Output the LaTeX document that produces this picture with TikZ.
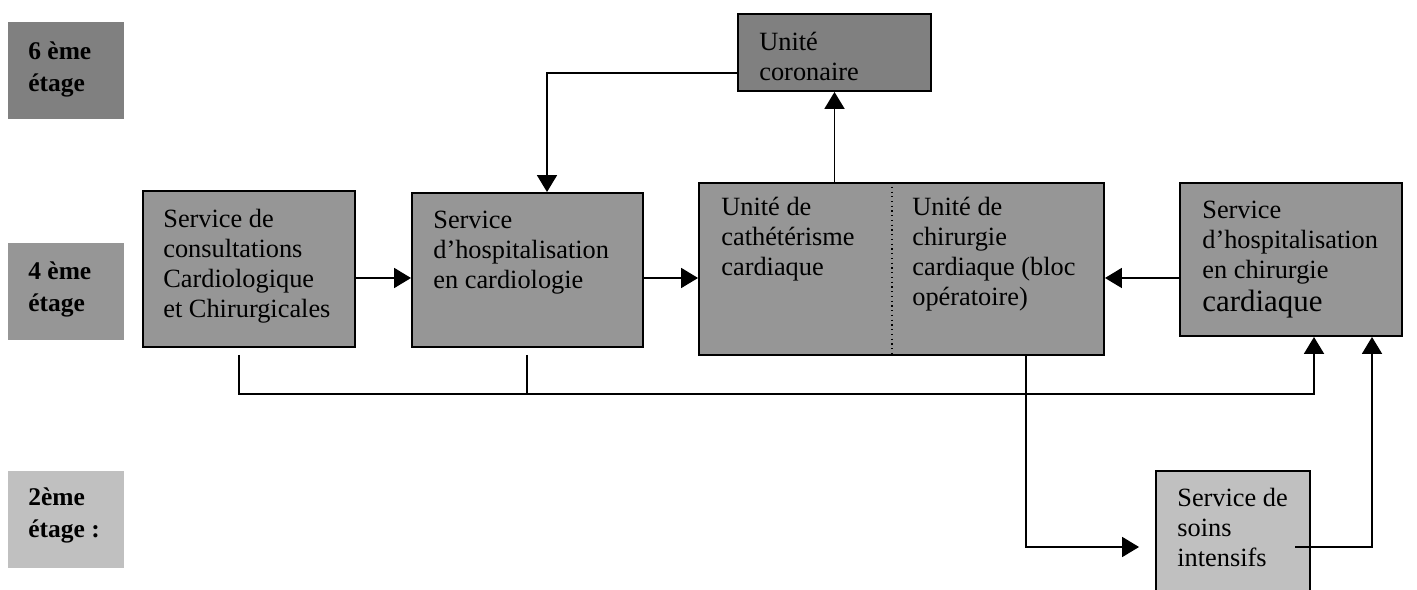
\documentclass[tikz,border=0pt]{standalone}
\usepackage{fontspec}
\setmainfont{Liberation Serif}
\usetikzlibrary{arrows.meta,positioning,calc,fit}
\definecolor{floorsix}{RGB}{128,128,128}
\definecolor{floorfour}{RGB}{150,150,150}
\definecolor{floortwo}{RGB}{192,192,192}
\tikzset{
  unit/.style={draw, line width=1.1pt, inner sep=0pt},
  txt/.style={anchor=north west, inner sep=0pt, align=left, font=\fontsize{15}{17}\selectfont},
  floorlbl/.style={anchor=north west, inner sep=0pt, align=left, font=\fontsize{14.5}{18.5}\selectfont\bfseries},
  link/.style={line width=1.1pt},
  arr/.style={link, -{Triangle[length=0.34cm,width=0.4cm]}}
}

\begin{document}
\begin{tikzpicture}[x=0.02cm, y=-0.02cm]
    \useasboundingbox (0,0) rectangle (1417,590);
    \clip (0,0) rectangle (1417,590);
    % Floors
    \foreach \name/\col/\ytop in {six/floorsix/22, four/floorfour/243, two/floortwo/471} {
        \node[fill=\col, inner sep=0pt, fit={(8,\ytop) (124,\ytop+97)}] (floor-\name) {};
    }
    \node[floorlbl] (lbl-six) at (28,41) {6 ème\\étage};
    \node[floorlbl] (lbl-four) at (28,261) {4 ème\\étage};
    \node[floorlbl] (lbl-two) at (28,487) {2ème\\étage :};
    % Units
    \node[unit, fill=floorfour, fit={(143,191) (355,347)}] (consult) {};
    \node[unit, fill=floorfour, fit={(412,193) (643,347)}] (hospcardio) {};
    \node[unit, fill=floorfour, fit={(699,183) (1104,355)}] (plateau) {};
    \node[unit, fill=floorfour, fit={(1180,183) (1402,336)}] (hospchir) {};
    \node[unit, fill=floorsix, fit={(738,14) (931,91)}] (coronaire) {};
    \node[unit, fill=floortwo, fit={(1156,471) (1310,600)}] (soins) {};
    \coordinate (div) at (892,0);
    \draw[dotted, line width=0.7pt] (plateau.north -| div) -- (plateau.south -| div);
    % Texts
    \node[txt] (consult-t) at (163,209) {Service de\\consultations\\Cardiologique\\et Chirurgicales};
    \node[txt] (hospcardio-t) at (433,211) {Service\\d’hospitalisation\\en cardiologie};
    \node[txt] (cathe-t) at (721,197) {Unité de\\cathétérisme\\cardiaque};
    \node[txt] (chir-t) at (912,197) {Unité de\\chirurgie\\cardiaque (bloc\\opératoire)};
    \node[txt] (hospchir-t) at (1202,201) {Service\\d’hospitalisation\\en chirurgie\\[2pt]{\fontsize{17.6}{20}\selectfont cardiaque}};
    \node[txt] (coronaire-t) at (759,32) {Unité\\coronaire};
    \node[txt] (soins-t) at (1177,488) {Service de\\soins\\intensifs};
    % Arrows on the 4th floor
    \coordinate (row) at (0,278);
    \draw[arr] (consult.east |- row) -- (hospcardio.west |- row);
    \draw[arr] (hospcardio.east |- row) -- (plateau.west |- row);
    \draw[arr] (hospchir.west |- row) -- (plateau.east |- row);
    % To and from the coronary unit
    \draw[arr] (coronaire.south |- plateau.north) -- (coronaire.south);
    \coordinate (down) at (547,73);
    \draw[arr] (coronaire.west |- down) -| (hospcardio.north -| down);
    % Collector line
    \coordinate (bus) at (0,394);
    \coordinate (c1) at (239,355);
    \coordinate (c2) at (527,355);
    \coordinate (c3) at (1314,0);
    \draw[arr] (c1) |- (c3 |- bus) -- (c3 |- hospchir.south);
    \draw[link] (c2) -- (c2 |- bus);
    % Intensive care
    \coordinate (c4) at (1026,547);
    \draw[arr, shorten >=0.32cm] (plateau.south -| c4) |- (soins.west |- c4);
    \coordinate (c5) at (1295,547);
    \coordinate (c6) at (1372,0);
    \draw[arr] (c5) -| (c6 |- hospchir.south);
\end{tikzpicture}
\end{document}
